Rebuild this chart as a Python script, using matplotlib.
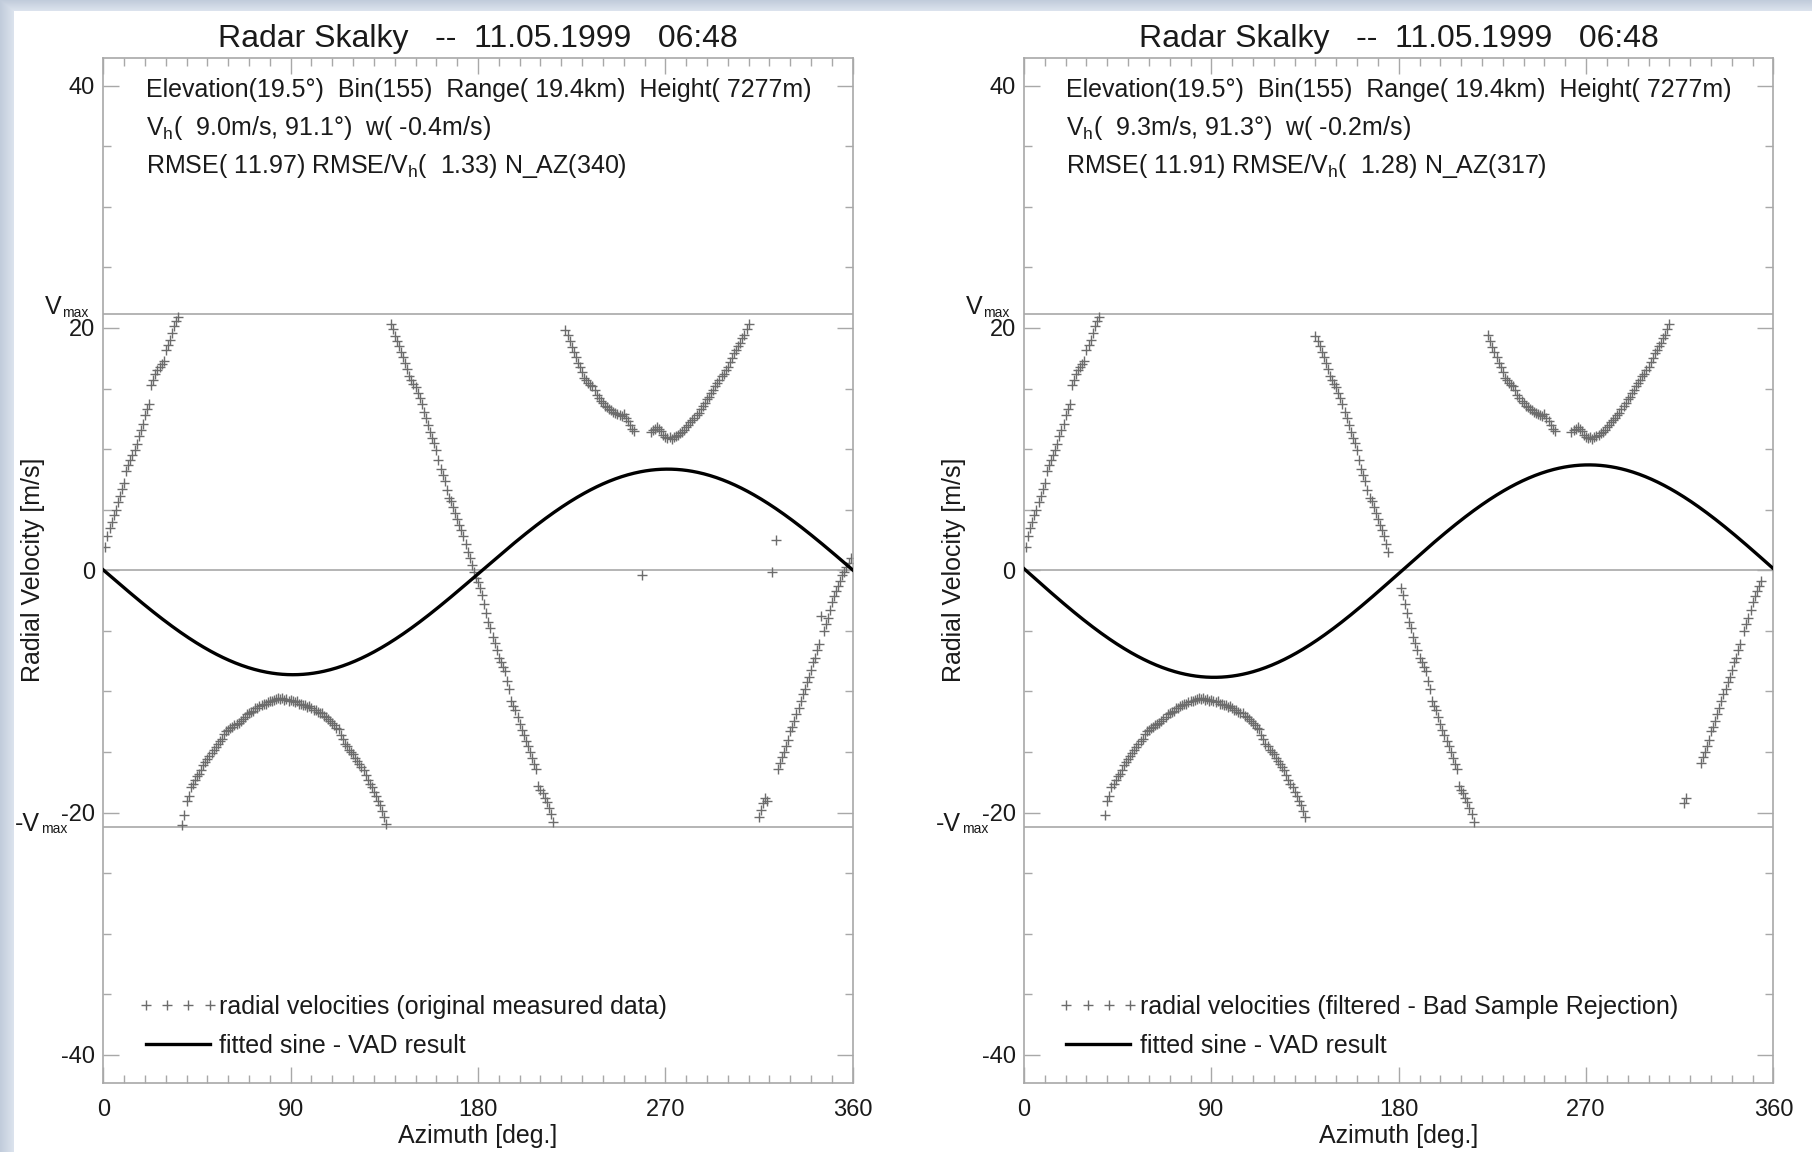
import numpy as np
import matplotlib
matplotlib.use("Agg")
import matplotlib.pyplot as plt
import matplotlib.transforms as mtransforms
from matplotlib.legend_handler import HandlerLine2D

plt.rcParams["font.family"] = ["Liberation Sans", "DejaVu Sans"]
plt.rcParams["axes.unicode_minus"] = False

# ---------------------------------------------------------------- data
# Nyquist velocity of the scan [m/s]
vmax = 21.15
elevation_deg = 19.5

# Measured (aliased) radial velocities, one value per degree of azimuth,
# split into the contiguous runs between folds / missing azimuths.
start_a = 1
vel_a = [1.9, 2.8, 3.5, 4.0, 4.6, 5.0, 5.6, 6.1, 6.7, 7.2,
         8.2, 8.7, 9.1, 9.5, 9.9, 10.4, 11.1, 11.6, 12.1, 12.8,
         13.3, 13.7, 15.3, 15.7, 16.2, 16.5, 16.8, 17.0, 17.3, 18.2,
         18.6, 19.0, 19.6, 20.2, 20.6, 20.9]

start_b = 38
vel_b = [-21.0, -20.2, -19.0, -18.6, -17.9, -17.6, -17.3, -17.0, -16.8, -16.5,
         -16.1, -15.8, -15.6, -15.3, -15.1, -14.8, -14.6, -14.3, -14.1, -13.9,
         -13.5, -13.3, -13.2, -13.0, -12.9, -12.8, -12.7, -12.6, -12.4, -12.3,
         -12.1, -11.9, -11.8, -11.7, -11.6, -11.4, -11.4, -11.2, -11.1, -11.0,
         -11.0, -10.9, -10.8, -10.8, -10.7, -10.6, -10.5, -10.6, -10.5, -10.7,
         -10.6, -10.8, -10.7, -10.8, -10.9, -10.8, -11.0, -11.0, -11.1, -11.1,
         -11.3, -11.2, -11.4, -11.5, -11.5, -11.7, -11.8, -11.8, -12.0, -12.1,
         -12.3, -12.4, -12.6, -12.8, -13.0, -13.1, -13.6, -13.9, -14.3, -14.5,
         -14.8, -15.0, -15.2, -15.5, -15.7, -16.0, -16.2, -16.5, -16.9, -17.3,
         -17.6, -17.9, -18.3, -18.6, -19.0, -19.4, -19.9, -20.4, -20.9]

start_c = 138
vel_c = [20.3, 19.9, 19.3, 18.9, 18.5, 18.0, 17.6, 17.1, 16.6, 16.0,
         15.7, 15.4, 15.1, 14.6, 14.2, 13.7, 13.1, 12.6, 12.0, 11.4,
         10.9, 10.5, 9.9, 9.1, 8.4, 7.9, 7.4, 6.6, 6.0, 5.7,
         5.2, 4.7, 4.2, 3.7, 3.3, 2.8, 2.2, 1.5, 1.0, 0.4,
         -0.1, -0.6, -1.0, -1.5, -2.0, -2.8, -3.5, -4.3, -4.8, -5.5,
         -6.0, -6.6, -7.2, -7.6, -8.0, -8.3, -9.1, -9.8, -10.8, -11.2,
         -11.5, -12.1, -12.7, -13.2, -13.6, -14.1, -14.5, -15.0, -15.5, -16.0,
         -16.4, -17.8, -18.1, -18.4, -18.8, -19.1, -19.6, -20.1, -20.8]

start_d1 = 222
vel_d1 = [19.8, 19.4, 18.9, 18.4, 18.0, 17.6, 17.1, 16.8, 16.4, 15.9,
          15.7, 15.5, 15.3, 15.2, 14.9, 14.5, 14.2, 14.0, 13.8, 13.6,
          13.5, 13.3, 13.2, 13.1, 13.0, 12.9, 12.8, 12.7, 12.9, 12.6,
          12.3, 12.0, 11.7, 11.5]

start_d2 = 263
vel_d2 = [11.4, 11.6, 11.7, 11.8, 11.7, 11.5, 11.2, 11.0, 10.9, 11.0,
          10.8, 11.0, 11.1, 11.2, 11.3, 11.4, 11.6, 11.8, 12.0, 12.2,
          12.4, 12.6, 12.8, 13.0, 13.3, 13.6, 13.8, 14.1, 14.3, 14.6,
          14.9, 15.2, 15.5, 15.7, 16.0, 16.2, 16.5, 16.8, 17.2, 17.5,
          17.9, 18.2, 18.5, 18.8, 19.2, 19.4, 19.9, 20.3]

start_e1 = 315
vel_e1 = [-20.4, -19.8, -19.2, -18.8, -19.0]

start_e2 = 324
vel_e2 = [-16.4, -15.9, -15.4, -15.0, -14.5, -14.0, -13.3, -12.9, -12.4, -11.9,
          -11.4, -10.8, -10.2, -9.8, -9.2, -8.8, -8.2, -7.6, -7.2, -6.6,
          -6.1, -3.8, -5.0, -4.4, -3.9, -3.3, -2.6, -2.1, -1.7, -1.3,
          -0.9, -0.4, -0.1, 0.3, 0.6, 1.0]

# isolated samples far off the velocity curve
outlier_az = [259, 321, 323]
outlier_vel = [-0.4, -0.1, 2.5]

# azimuths removed by the bad sample rejection
rejected_az = [38, 136, 138, 139, 176, 177, 178, 179, 180, 222, 259,
               315, 316, 319, 321, 323, 324, 345, 355, 356, 357, 358, 359]

# VAD fit results: (horizontal speed, direction, vertical speed)
fit_left = (9.0, 91.1, -0.4)
fit_right = (9.3, 91.3, -0.2)

title_text = "Radar Skalky   --  11.05.1999   06:48"
info_common = "Elevation(19.5\u00b0)  Bin(155)  Range( 19.4km)  Height( 7277m)"
info_left = [info_common,
             r"V$_\mathregular{h}$(  9.0m/s, 91.1$\mathregular{\degree}$)  w( -0.4m/s)",
             r"RMSE( 11.97) RMSE/V$_\mathregular{h}$(  1.33) N_AZ(340)"]
info_right = [info_common,
              r"V$_\mathregular{h}$(  9.3m/s, 91.3$\mathregular{\degree}$)  w( -0.2m/s)",
              r"RMSE( 11.91) RMSE/V$_\mathregular{h}$(  1.28) N_AZ(317)"]
label_left = "radial velocities (original measured data)"
label_right = "radial velocities (filtered - Bad Sample Rejection)"
label_fit = "fitted sine - VAD result"

x_ticks = [0, 90, 180, 270, 360]
y_ticks = [-40, -20, 0, 20, 40]

# ---------------------------------------------------------------- assemble
runs = [(start_a, vel_a), (start_b, vel_b), (start_c, vel_c),
        (start_d1, vel_d1), (start_d2, vel_d2), (start_e1, vel_e1),
        (start_e2, vel_e2)]
az_meas = np.concatenate([np.arange(s, s + len(v)) for s, v in runs] + [outlier_az])
vel_meas = np.concatenate([np.asarray(v, float) for _, v in runs] + [outlier_vel])
order = np.argsort(az_meas)
az_meas, vel_meas = az_meas[order], vel_meas[order]
keep = ~np.isin(az_meas, rejected_az)
az_filt, vel_filt = az_meas[keep], vel_meas[keep]


def vad_curve(az, vh, direction, w):
    el = np.deg2rad(elevation_deg)
    return (-vh * np.cos(el) * np.cos(np.deg2rad(az - direction))
            + w * np.sin(el))


# ---------------------------------------------------------------- figure
W, H = 1812, 1152
fig = plt.figure(figsize=(W / 100, H / 100), dpi=100)
fig.patch.set_facecolor("white")

# window-frame strips along the top and left edges
bg = fig.add_axes([0, 0, 1, 1], zorder=-10)
bg.set_axis_off()
img = np.ones((H, W, 3))
edge_dark = np.array([0.76, 0.80, 0.86])
edge_light = np.array([0.86, 0.89, 0.93])
for i in range(14):
    img[:, i, :] = edge_dark + (edge_light - edge_dark) * i / 13
for j in range(11):
    img[j, :, :] = np.minimum(img[j, :, :], edge_dark + (edge_light - edge_dark) * j / 10)
bg.imshow(img, extent=[0, W, H, 0], aspect="auto", interpolation="nearest")
bg.set_xlim(0, W)
bg.set_ylim(H, 0)

ax_w = 749.4 / W
ax_h = 1025.0 / H
ax_b = (H - 1082.8) / H
ax_left = fig.add_axes([103.3 / W, ax_b, ax_w, ax_h])
ax_right = fig.add_axes([1024.0 / W, ax_b, ax_w, ax_h])

text_col = "#1a1a1a"
frame_col = "#a8a8a8"
ref_col = "#a8a8a8"
pt_col = "#6c6c6c"

az_fine = np.linspace(0, 360, 721)


def draw_panel(ax, az, vel, fit, info, label):
    ax.set_xlim(0, 360)
    ax.set_ylim(-2 * vmax, 2 * vmax)
    for y in (0, vmax, -vmax):
        ax.axhline(y, color=ref_col, lw=1.2, zorder=1)
    pts, = ax.plot(az, vel, ls="none", marker="+", ms=7.5, mew=1.0,
                   color=pt_col, zorder=2, label=label)
    curve, = ax.plot(az_fine, vad_curve(az_fine, *fit), color="black",
                     lw=2.4, zorder=3, label=label_fit)

    ax.set_xticks(x_ticks)
    ax.set_xticks(np.arange(0, 361, 10), minor=True)
    ax.set_yticks(y_ticks)
    ax.set_yticks(np.arange(-40, 41, 5), minor=True)
    ax.tick_params(which="both", direction="in", top=True, right=True,
                   color=frame_col, width=1.0, labelsize=17,
                   labelcolor=text_col)
    ax.tick_params(which="major", length=11.5)
    ax.tick_params(which="minor", length=5.8)
    ax.tick_params(axis="y", pad=6)
    ax.tick_params(axis="x", pad=11.5)
    for sp in ax.spines.values():
        sp.set_color(frame_col)
        sp.set_linewidth(1.2)

    ax.set_title(title_text, fontsize=23, pad=8, color=text_col)
    ax.set_xlabel("Azimuth [deg.]", fontsize=18, labelpad=2.5, color=text_col)
    ax.set_ylabel("Radial Velocity [m/s]", fontsize=18, color=text_col)
    ax.yaxis.set_label_coords(-0.078, 0.5)

    for s, yb in zip(info, (0.9620, 0.9246, 0.8876)):
        ax.text(0.0564, yb, s, transform=ax.transAxes, fontsize=18,
                va="baseline", ha="left", color=text_col)

    # Nyquist limit labels: large "V" with a small "max" subscript
    tr = mtransforms.blended_transform_factory(ax.transAxes, ax.transData)
    ax.text(-0.0555, vmax, "V", transform=tr, fontsize=18, ha="right",
            va="baseline", color=text_col, clip_on=False)
    ax.text(-0.0551, vmax - 0.25, "max", transform=tr, fontsize=10,
            ha="left", va="baseline", color=text_col, clip_on=False)
    ax.text(-0.0842, -vmax - 0.33, "-V", transform=tr, fontsize=18,
            ha="right", va="baseline", color=text_col, clip_on=False)
    ax.text(-0.0829, -vmax - 0.5, "max", transform=tr, fontsize=10,
            ha="left", va="baseline", color=text_col, clip_on=False)

    ax.legend(handles=[pts, curve], loc="lower left",
              bbox_to_anchor=(0.0564, 0.0244), frameon=False, fontsize=18,
              borderpad=0, borderaxespad=0, handlelength=2.56,
              handletextpad=0.38, labelspacing=0.6, labelcolor=text_col,
              handler_map={pts: HandlerLine2D(numpoints=4, marker_pad=0.0)})


draw_panel(ax_left, az_meas, vel_meas, fit_left, info_left, label_left)
draw_panel(ax_right, az_filt, vel_filt, fit_right, info_right, label_right)

fig.savefig("out.png", dpi=100, facecolor=fig.get_facecolor())
